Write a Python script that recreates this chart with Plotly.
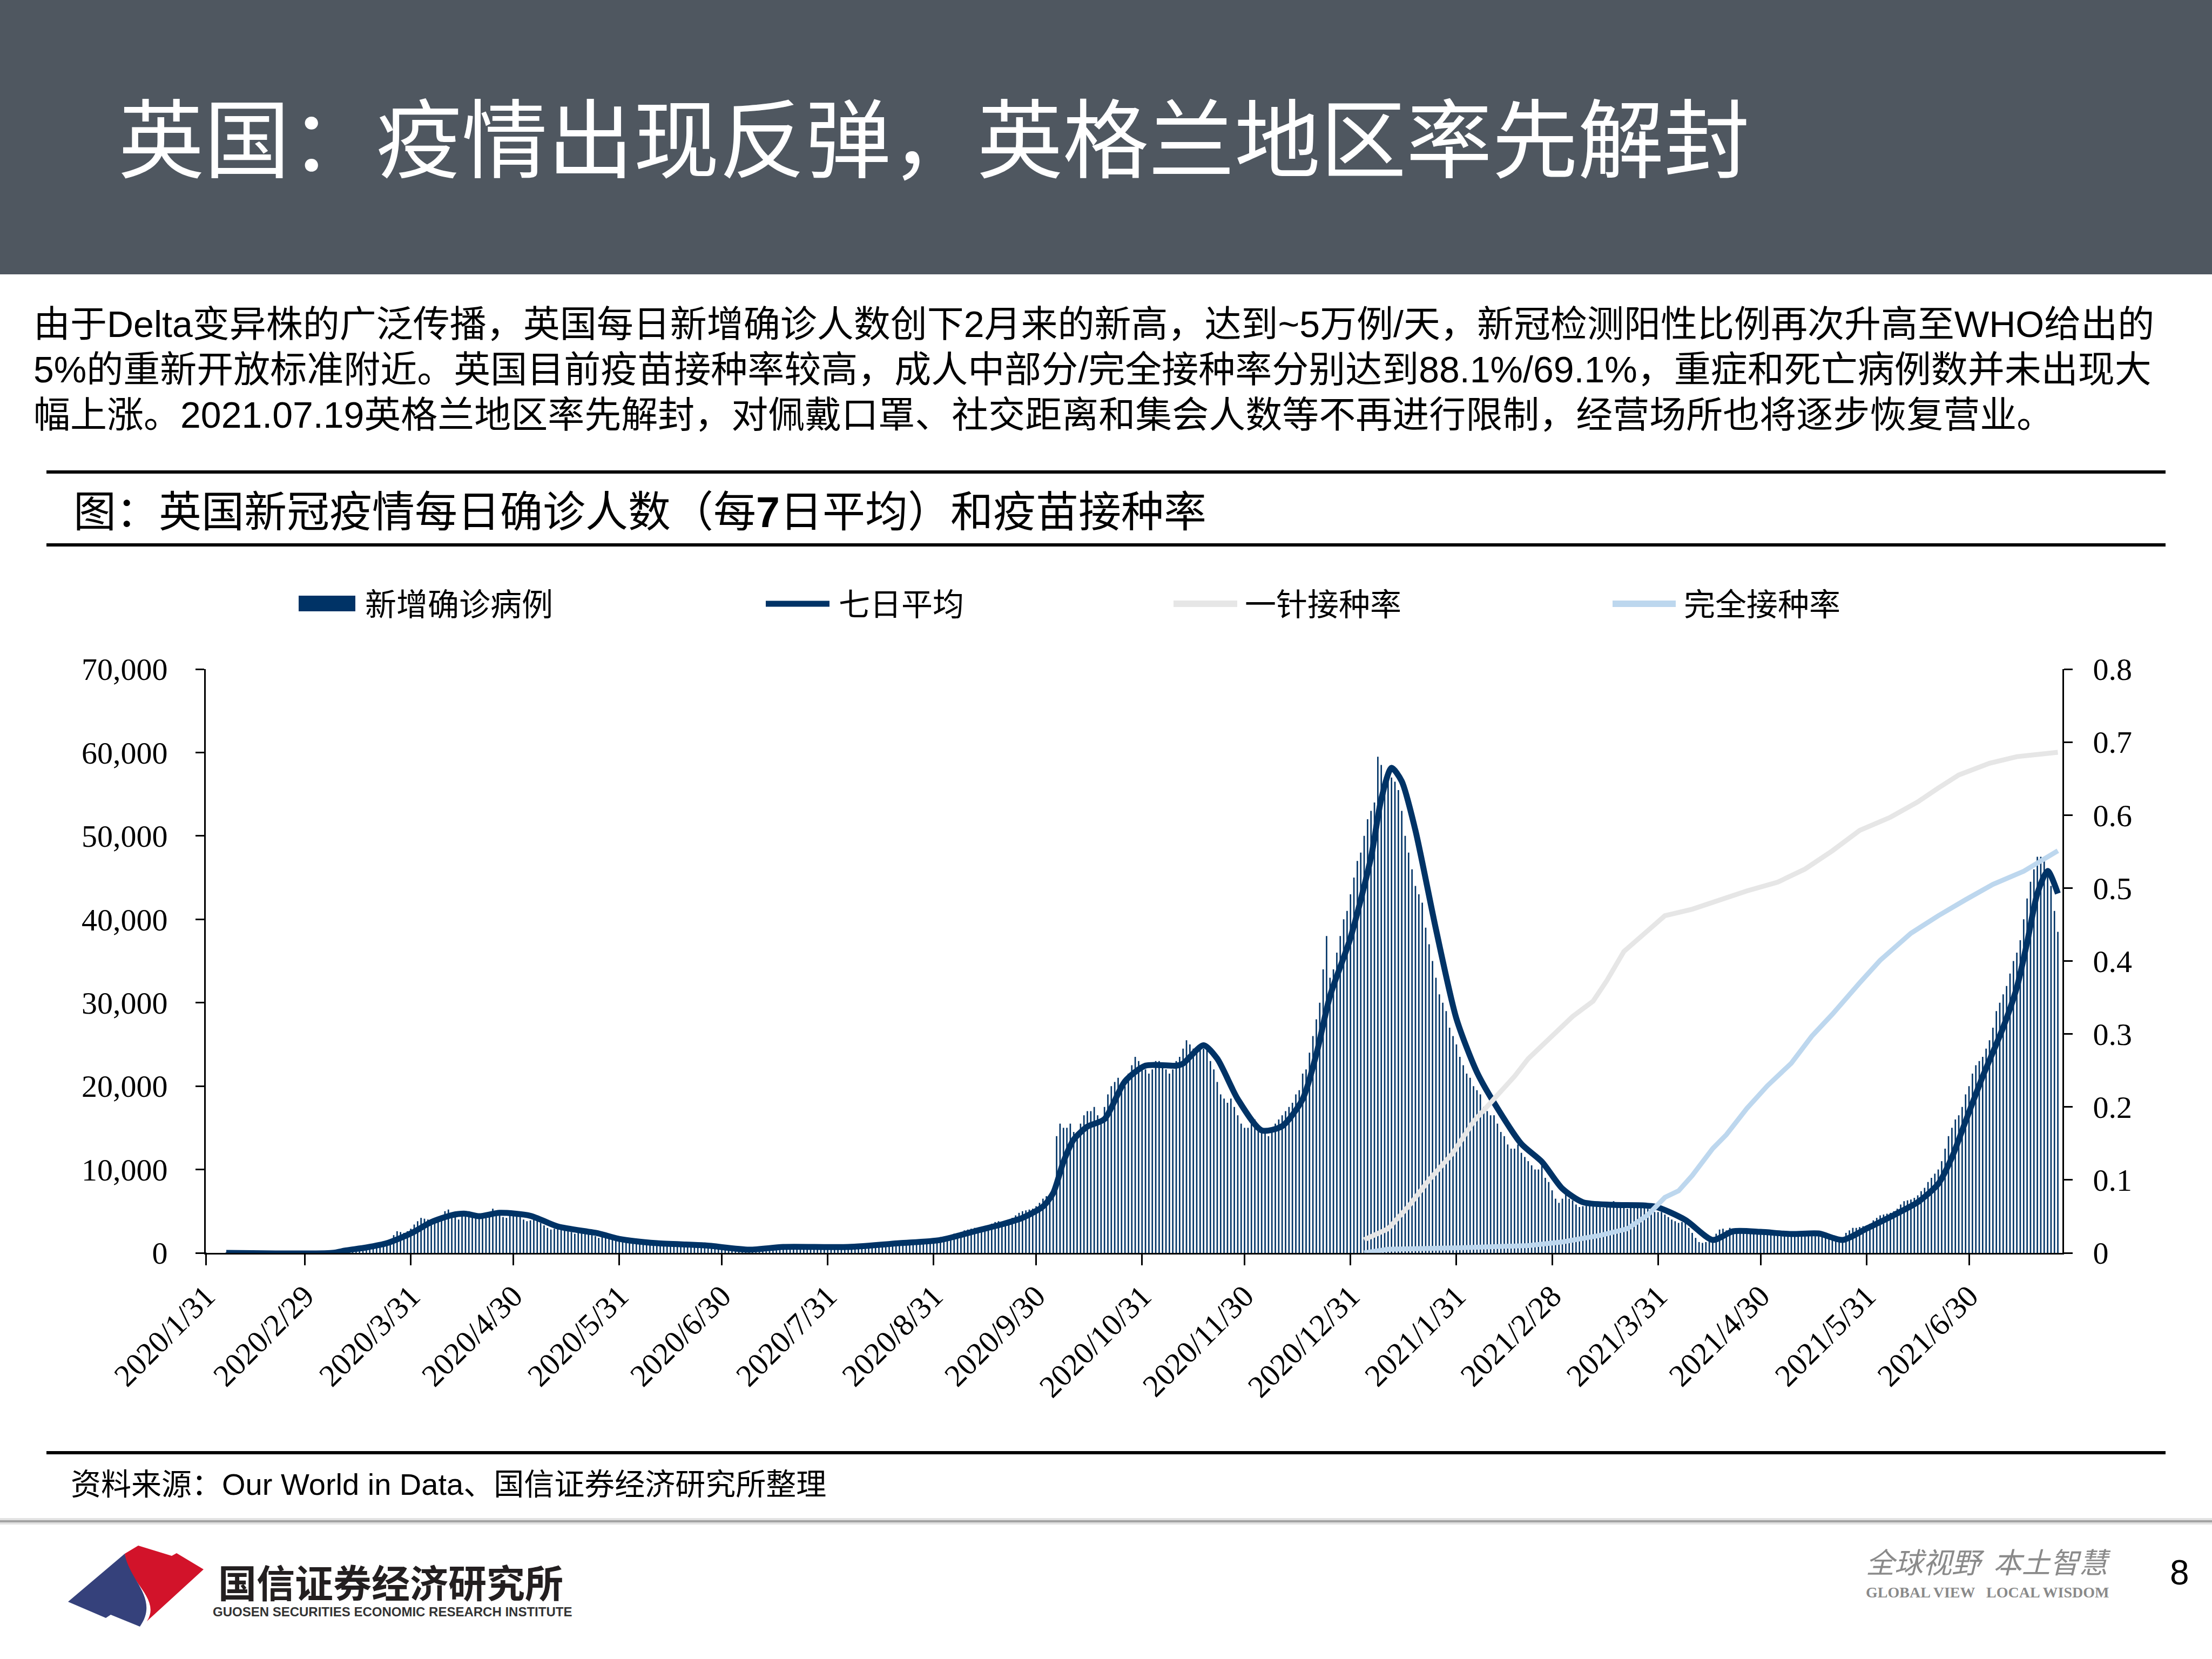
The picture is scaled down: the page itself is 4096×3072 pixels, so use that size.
import plotly.graph_objects as go
import pandas as pd

W, H = 4096, 3072


def px(x):
    return x / W


def py(y):
    return 1 - y / H


# ---------------- data ----------------
case_start = "2020-01-31"
# daily new cases, one row per week (each row starts on a Friday)
daily_cases_by_week = [
    [2, 0, 0, 0, 0, 0, 1],
    [0, 1, 4, 0, 0, 0, 0],
    [0, 0, 0, 0, 0, 0, 0],
    [0, 0, 0, 4, 0, 0, 0],
    [3, 5, 12, 5, 11, 34, 30],
    [48, 43, 67, 48, 52, 83, 134],
    [210, 340, 340, 410, 680, 640, 710],
    [1040, 1040, 1030, 970, 1430, 1580, 2130],
    [2600, 2500, 2400, 2600, 2900, 3400, 3800],
    [4200, 4100, 4000, 3800, 3700, 4300, 4500],
    [5000, 5200, 4400, 4300, 4000, 4600, 4900],
    [5000, 4600, 4300, 4400, 4400, 4800, 4600],
    [5300, 5000, 4500, 4300, 4200, 4600, 5000],
    [4800, 4300, 4000, 3800, 3900, 4200, 4000],
    [3600, 3300, 3000, 2800, 2900, 3200, 3100],
    [2900, 2700, 2500, 2300, 2500, 2600, 2700],
    [2400, 2200, 2000, 1800, 2000, 2100, 2200],
    [1800, 1600, 1400, 1300, 1400, 1500, 1500],
    [1400, 1300, 1100, 1000, 1100, 1100, 1100],
    [1200, 1100, 1000, 900, 1000, 1100, 1050],
    [1000, 950, 850, 800, 850, 900, 950],
    [850, 800, 650, 550, 600, 650, 700],
    [550, 500, 400, 350, 350, 380, 400],
    [500, 550, 600, 600, 650, 650, 650],
    [700, 700, 650, 700, 750, 750, 750],
    [750, 700, 650, 650, 700, 750, 800],
    [800, 750, 700, 650, 700, 700, 700],
    [850, 850, 800, 850, 900, 1000, 1050],
    [1100, 1100, 1050, 1100, 1150, 1200, 1200],
    [1250, 1250, 1200, 1300, 1400, 1500, 1550],
    [1500, 1450, 1400, 1600, 1800, 1900, 1950],
    [2000, 2100, 2300, 2400, 2500, 2700, 2800],
    [2900, 3000, 2900, 3000, 3100, 3300, 3500],
    [3700, 3800, 3700, 3800, 4000, 4200, 4500],
    [4800, 5000, 5100, 5200, 5300, 5600, 6000],
    [6500, 6800, 7000, 7000, 14000, 15500, 15000],
    [15000, 15500, 14500, 14000, 15500, 16500, 17000],
    [17000, 17500, 16500, 16000, 17500, 19000, 20000],
    [20500, 21000, 20500, 20000, 21500, 22500, 23500],
    [23000, 22500, 22000, 21500, 22000, 23000, 23000],
    [22500, 22000, 21500, 22000, 23000, 23500, 24500],
    [25500, 25000, 24500, 24000, 24500, 24500, 25000],
    [23000, 22000, 20500, 19000, 18500, 18000, 18500],
    [17500, 16500, 15500, 15000, 15000, 15500, 16000],
    [15000, 14800, 14500, 14000, 14800, 15500, 16000],
    [16500, 17000, 17500, 18000, 19000, 19500, 21500],
    [22000, 24000, 26000, 28000, 30000, 34000, 38000],
    [33000, 34000, 36000, 38000, 40000, 41000, 43000],
    [45000, 47000, 48000, 50000, 52000, 53000, 54000],
    [59500, 58500, 57000, 56500, 57000, 56500, 55500],
    [53000, 50000, 48000, 46000, 44000, 43000, 42000],
    [39000, 37000, 35000, 33000, 31000, 30000, 29000],
    [27000, 26000, 25000, 23500, 22500, 21500, 21000],
    [20000, 19500, 19000, 17500, 17000, 16500, 16500],
    [15500, 14500, 14000, 13000, 12500, 12500, 13000],
    [12000, 11500, 11000, 10500, 10000, 10000, 10500],
    [9000, 8500, 7500, 6500, 6000, 6500, 7000],
    [6500, 6300, 5800, 5500, 5600, 6000, 6200],
    [6000, 5900, 5500, 5400, 5500, 5800, 6200],
    [6000, 5800, 5400, 5300, 5500, 5700, 5900],
    [5800, 5600, 5300, 5000, 4900, 4900, 4900],
    [4600, 4300, 4000, 3800, 3600, 3700, 3700],
    [3000, 2400, 1800, 1300, 1200, 1300, 1800],
    [1500, 2300, 2800, 2900, 2700, 3000, 2900],
    [2700, 2600, 2400, 2300, 2400, 2600, 2700],
    [2600, 2500, 2300, 2200, 2300, 2400, 2500],
    [2400, 2300, 2200, 2100, 2200, 2300, 2450],
    [2300, 2200, 2100, 2000, 1900, 2000, 2200],
    [1500, 1400, 1500, 1800, 2400, 2700, 3000],
    [3000, 3100, 3200, 3300, 3500, 3900, 4200],
    [4500, 4600, 4700, 4800, 5000, 5300, 5800],
    [6200, 6300, 6400, 6600, 6900, 7400, 7800],
    [8500, 9000, 9500, 10000, 11000, 12500, 14000],
    [15000, 16000, 16500, 17500, 19000, 20000, 21500],
    [22500, 23000, 23500, 24500, 25500, 27000, 29000],
    [30000, 31000, 32000, 33500, 35000, 36000, 37500],
    [40000, 42500, 44500, 46000, 47500, 47500, 47000],
    [46000, 44000, 41000, 38500],
]

avg_dates = [
    "2020-02-06", "2020-03-08", "2020-03-12", "2020-03-18", "2020-03-24", "2020-03-31",
    "2020-04-06", "2020-04-12", "2020-04-16", "2020-04-20", "2020-04-26", "2020-05-05",
    "2020-05-13", "2020-05-25", "2020-05-31", "2020-06-11", "2020-06-25", "2020-07-08",
    "2020-07-18", "2020-08-06", "2020-08-21", "2020-09-02", "2020-09-12", "2020-09-20",
    "2020-09-26", "2020-10-02", "2020-10-05", "2020-10-08", "2020-10-11", "2020-10-15",
    "2020-10-20", "2020-10-26", "2020-11-01", "2020-11-10", "2020-11-12", "2020-11-18",
    "2020-11-22", "2020-11-28", "2020-12-05", "2020-12-11", "2020-12-17", "2020-12-21",
    "2020-12-25", "2020-12-31", "2021-01-06", "2021-01-09", "2021-01-12", "2021-01-15",
    "2021-01-19", "2021-01-25", "2021-01-31", "2021-02-06", "2021-02-12", "2021-02-19",
    "2021-02-25", "2021-03-03", "2021-03-09", "2021-03-18", "2021-03-30", "2021-04-08",
    "2021-04-16", "2021-04-22", "2021-04-30", "2021-05-09", "2021-05-17", "2021-05-24",
    "2021-05-31", "2021-06-08", "2021-06-15", "2021-06-21", "2021-06-25", "2021-06-29",
    "2021-07-04", "2021-07-10", "2021-07-14", "2021-07-17", "2021-07-20", "2021-07-23",
    "2021-07-26",
]
avg_values = [
    0, 0, 300, 650, 1160, 2330, 3690, 4530, 4700, 4400, 4800, 4450, 3170, 2330, 1680,
    1160, 900, 390, 710, 710, 1160, 1550, 2590, 3430, 4200, 5560, 7180, 10930, 13590,
    15140, 16040, 20570, 22450, 22450, 22700, 24900, 23290, 18440, 14690, 15200, 18440,
    23810, 30800, 37780, 47420, 54410, 58160, 56550, 50660, 38820, 28080, 21670, 17340,
    13070, 10930, 7700, 6080, 5760, 5560, 3950, 1550, 2590, 2520, 2260, 2330, 1550, 2910,
    4530, 6080, 8280, 11450, 15790, 21150, 27040, 31830, 37200, 43090, 45800, 43090,
]

dose1_dates = [
    "2021-01-04", "2021-01-11", "2021-01-17", "2021-01-23", "2021-01-30", "2021-02-05",
    "2021-02-11", "2021-02-17", "2021-02-21", "2021-02-28", "2021-03-06", "2021-03-12",
    "2021-03-16", "2021-03-21", "2021-03-27", "2021-04-02", "2021-04-10", "2021-04-18",
    "2021-04-26", "2021-05-05", "2021-05-13", "2021-05-21", "2021-05-29", "2021-06-07",
    "2021-06-15", "2021-06-21", "2021-06-27", "2021-07-06", "2021-07-14", "2021-07-22",
    "2021-07-26",
]
dose1_values = [
    0.018, 0.033, 0.064, 0.100, 0.137, 0.180, 0.211, 0.242, 0.266, 0.297, 0.324, 0.345,
    0.373, 0.413, 0.438, 0.462, 0.471, 0.484, 0.496, 0.508, 0.526, 0.551, 0.579, 0.597,
    0.618, 0.637, 0.655, 0.671, 0.680, 0.684, 0.686,
]

full_dates = [
    "2021-01-04", "2021-01-11", "2021-02-01", "2021-02-21", "2021-03-03", "2021-03-14",
    "2021-03-22", "2021-03-28", "2021-04-02", "2021-04-06", "2021-04-10", "2021-04-16",
    "2021-04-20", "2021-04-26", "2021-05-02", "2021-05-09", "2021-05-15", "2021-05-21",
    "2021-05-29", "2021-06-04", "2021-06-13", "2021-06-21", "2021-06-29", "2021-07-07",
    "2021-07-16", "2021-07-22", "2021-07-26",
]
full_values = [
    0.0, 0.005, 0.007, 0.010, 0.015, 0.024, 0.033, 0.052, 0.076, 0.085, 0.106, 0.143,
    0.162, 0.198, 0.229, 0.260, 0.297, 0.327, 0.370, 0.401, 0.438, 0.462, 0.484, 0.505,
    0.523, 0.539, 0.551,
]

x_tick_dates = [
    "2020-01-31", "2020-02-29", "2020-03-31", "2020-04-30", "2020-05-31", "2020-06-30",
    "2020-07-31", "2020-08-31", "2020-09-30", "2020-10-31", "2020-11-30", "2020-12-31",
    "2021-01-31", "2021-02-28", "2021-03-31", "2021-04-30", "2021-05-31", "2021-06-30",
]
x_tick_labels = [
    "2020/1/31", "2020/2/29", "2020/3/31", "2020/4/30", "2020/5/31", "2020/6/30",
    "2020/7/31", "2020/8/31", "2020/9/30", "2020/10/31", "2020/11/30", "2020/12/31",
    "2021/1/31", "2021/2/28", "2021/3/31", "2021/4/30", "2021/5/31", "2021/6/30",
]
y_left_ticks = [0, 10000, 20000, 30000, 40000, 50000, 60000, 70000]
y_right_ticks = [0, 0.1, 0.2, 0.3, 0.4, 0.5, 0.6, 0.7, 0.8]
y_right_labels = ["0", "0.1", "0.2", "0.3", "0.4", "0.5", "0.6", "0.7", "0.8"]

series_names = ["新增确诊病例", "七日平均", "一针接种率", "完全接种率"]

# ---------------- styles ----------------
NAVY = "#003366"
GRAY = "#E6E6E6"
LBLUE = "#BDD7EE"
CJK = "Liberation Sans, Noto Sans CJK SC, sans-serif"
SERIF = "Liberation Serif, Times New Roman, serif"

daily_cases = [v for week in daily_cases_by_week for v in week]
case_dates = pd.date_range(case_start, periods=len(daily_cases), freq="D")

fig = go.Figure()
fig.add_trace(go.Bar(
    x=case_dates, y=daily_cases, name=series_names[0],
    width=0.42 * 86400000, marker=dict(color=NAVY, line=dict(width=0)),
    yaxis="y",
))
fig.add_trace(go.Scatter(
    x=avg_dates, y=avg_values, name=series_names[1], mode="lines",
    line=dict(color=NAVY, width=11, shape="spline", smoothing=0.7), yaxis="y",
))
fig.add_trace(go.Scatter(
    x=dose1_dates, y=dose1_values, name=series_names[2], mode="lines",
    line=dict(color=GRAY, width=9), yaxis="y2",
))
fig.add_trace(go.Scatter(
    x=full_dates, y=full_values, name=series_names[3], mode="lines",
    line=dict(color=LBLUE, width=9), yaxis="y2",
))

plot_x0, plot_x1 = 381, 3819
plot_top, plot_bot = 1239, 2320

fig.update_layout(
    width=W, height=H, autosize=False,
    margin=dict(l=0, r=0, t=0, b=0, pad=0, autoexpand=False),
    paper_bgcolor="white", plot_bgcolor="white",
    showlegend=False,
    xaxis=dict(
        type="date", domain=[px(plot_x0), px(plot_x1)],
        range=["2020-01-31", "2021-07-27 08:00"],
        tickmode="array", tickvals=x_tick_dates, ticktext=x_tick_labels,
        tickangle=-45, ticks="outside", ticklen=20, tickwidth=3, tickcolor="black",
        showline=True, linecolor="black", linewidth=3,
        showgrid=False, zeroline=False, automargin=False,
        tickfont=dict(family=SERIF, size=58, color="black"),
        anchor="y",
    ),
    yaxis=dict(
        domain=[py(plot_bot), py(plot_top)], range=[0, 70000],
        tickmode="array", tickvals=y_left_ticks, tickformat=",d",
        ticks="outside", ticklen=16, tickwidth=3, tickcolor="black",
        showline=True, linecolor="black", linewidth=3,
        showgrid=False, zeroline=False, automargin=False,
        tickfont=dict(family=SERIF, size=58, color="black"),
        ticklabelstandoff=40,
    ),
    yaxis2=dict(
        domain=[py(plot_bot), py(plot_top)], range=[0, 0.8],
        overlaying="y", side="right", anchor="x",
        tickmode="array", tickvals=y_right_ticks, ticktext=y_right_labels,
        ticks="outside", ticklen=16, tickwidth=3, tickcolor="black",
        showline=True, linecolor="black", linewidth=3,
        showgrid=False, zeroline=False, automargin=False,
        tickfont=dict(family=SERIF, size=58, color="black"),
        ticklabelstandoff=26,
    ),
)

shapes = []
annotations = []

# title bar
shapes.append(dict(type="rect", xref="paper", yref="paper", x0=0, x1=1,
                   y0=py(508), y1=1, fillcolor="#4F5760", line=dict(width=0), layer="below"))
annotations.append(dict(text="英国：疫情出现反弹，英格兰地区率先解封", x=px(217), y=py(262),
                        xref="paper", yref="paper", xanchor="left", yanchor="middle",
                        showarrow=False, font=dict(family=CJK, size=159, color="white")))

# paragraph
para_lines = [
    "由于Delta变异株的广泛传播，英国每日新增确诊人数创下2月来的新高，达到~5万例/天，新冠检测阳性比例再次升高至WHO给出的",
    "5%的重新开放标准附近。英国目前疫苗接种率较高，成人中部分/完全接种率分别达到88.1%/69.1%，重症和死亡病例数并未出现大",
    "幅上涨。2021.07.19英格兰地区率先解封，对佩戴口罩、社交距离和集会人数等不再进行限制，经营场所也将逐步恢复营业。",
]
for i, (line, yy) in enumerate(zip(para_lines, [600, 684, 768])):
    annotations.append(dict(text=line, x=px(60), y=py(yy), xref="paper", yref="paper",
                            xanchor="left", yanchor="middle", showarrow=False,
                            font=dict(family=CJK, size=68, color="black")))

# rules
for yy in [874, 1009, 2690]:
    shapes.append(dict(type="line", xref="paper", yref="paper", x0=px(86), x1=px(4010),
                       y0=py(yy), y1=py(yy), line=dict(color="black", width=6)))

annotations.append(dict(text="图：英国新冠疫情每日确诊人数（每<b>7</b>日平均）和疫苗接种率",
                        x=px(134), y=py(948), xref="paper", yref="paper",
                        xanchor="left", yanchor="middle", showarrow=False,
                        font=dict(family=CJK, size=79, color="black")))

# legend (drawn manually to match the wide swatches)
leg_y = 1118
shapes.append(dict(type="rect", xref="paper", yref="paper", x0=px(553), x1=px(658),
                   y0=py(1132), y1=py(1103), fillcolor=NAVY, line=dict(width=0)))
for (x0, x1, col, wd) in [(1418, 1536, NAVY, 11), (2173, 2291, GRAY, 12), (2986, 3103, LBLUE, 12)]:
    shapes.append(dict(type="line", xref="paper", yref="paper", x0=px(x0), x1=px(x1),
                       y0=py(leg_y), y1=py(leg_y), line=dict(color=col, width=wd)))
for name, xx in zip(series_names, [674, 1551, 2303, 3116]):
    annotations.append(dict(text=name, x=px(xx), y=py(1120), xref="paper", yref="paper",
                            xanchor="left", yanchor="middle", showarrow=False,
                            font=dict(family=CJK, size=58, color="black")))

# source
annotations.append(dict(text="资料来源：Our World in Data、国信证券经济研究所整理",
                        x=px(129), y=py(2748), xref="paper", yref="paper",
                        xanchor="left", yanchor="middle", showarrow=False,
                        font=dict(family=CJK, size=56, color="black")))

# footer separator (soft grey)
shapes.append(dict(type="line", xref="paper", yref="paper", x0=0, x1=1,
                   y0=py(2817), y1=py(2817), line=dict(color="#E2E2E2", width=12)))
shapes.append(dict(type="line", xref="paper", yref="paper", x0=0, x1=1,
                   y0=py(2817), y1=py(2817), line=dict(color="#A3A3A3", width=4)))


def path(points_cmds):
    out = []
    for cmd, pts in points_cmds:
        coords = " ".join(f"{px(x):.5f},{py(y):.5f}" for x, y in pts)
        out.append(f"{cmd} {coords}")
    return " ".join(out) + " Z"


red_path = path([
    ("M", [(256, 2862)]), ("L", [(318, 2881)]), ("L", [(327, 2876)]), ("L", [(377, 2906)]),
    ("L", [(272, 3002)]), ("C", [(300, 2960), (232, 2925), (231, 2877)]),
])
blue_path = path([
    ("M", [(231, 2877)]), ("C", [(238, 2925), (296, 2960), (259, 3012)]),
    ("L", [(205, 2990)]), ("L", [(196, 2996)]), ("L", [(126, 2966)]),
])
shapes.append(dict(type="path", xref="paper", yref="paper", path=red_path,
                   fillcolor="#D2132A", line=dict(width=0)))
shapes.append(dict(type="path", xref="paper", yref="paper", path=blue_path,
                   fillcolor="#35417B", line=dict(width=0)))

annotations.append(dict(text="<b>国信证券经济研究所</b>", x=px(402), y=py(2927),
                        xref="paper", yref="paper", xanchor="left", yanchor="middle",
                        showarrow=False, font=dict(family="Noto Sans CJK SC", size=71, color="#231F20")))
annotations.append(dict(text="<b>GUOSEN SECURITIES ECONOMIC RESEARCH INSTITUTE</b>", x=px(392), y=py(2984),
                        xref="paper", yref="paper", xanchor="left", yanchor="middle",
                        showarrow=False,
                        font=dict(family="Liberation Sans Narrow, Liberation Sans", size=24, color="#333333")))
annotations.append(dict(text="<i>全球视野  本土智慧</i>", x=px(3453), y=py(2890),
                        xref="paper", yref="paper", xanchor="left", yanchor="middle",
                        showarrow=False, font=dict(family="Noto Sans CJK SC", size=53, color="#8A8A8A")))
annotations.append(dict(text="<b>GLOBAL VIEW   LOCAL WISDOM</b>", x=px(3453), y=py(2948),
                        xref="paper", yref="paper", xanchor="left", yanchor="middle",
                        showarrow=False, font=dict(family=SERIF, size=28, color="#8A8A8A")))
annotations.append(dict(text="8", x=px(4036), y=py(2912), xref="paper", yref="paper",
                        xanchor="center", yanchor="middle", showarrow=False,
                        font=dict(family="Liberation Sans", size=64, color="black")))

fig.update_layout(shapes=shapes, annotations=annotations)
fig.write_html("out.html")
